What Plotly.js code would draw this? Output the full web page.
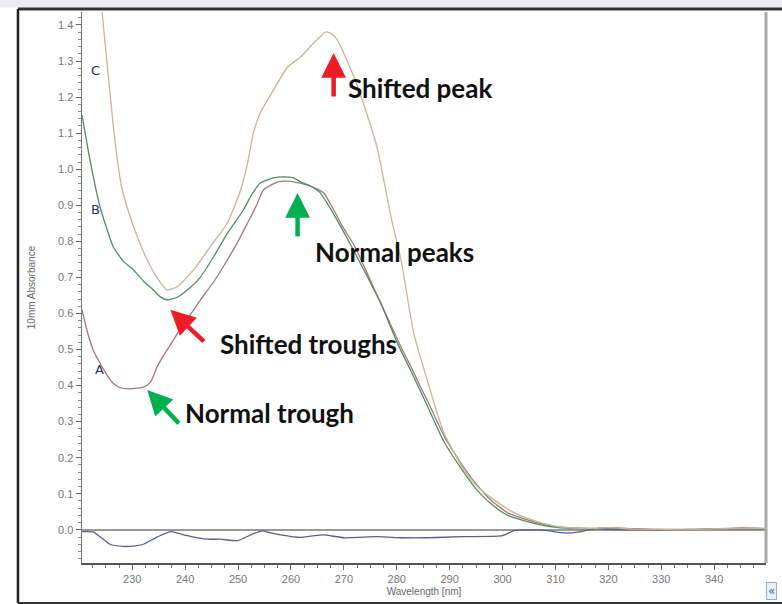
<!DOCTYPE html>
<html>
<head>
<meta charset="utf-8">
<script src="https://cdn.plot.ly/plotly-3.0.1.min.js"></script>
<style>html,body{margin:0;padding:0;background:#fff;}#chart{width:782px;height:604px;}</style>
</head>
<body>
<div id="chart"></div>
<script>
// Wavelength (nm) and absorbance readings for each spectrum
const wlC = [223.8, 224.3, 225.0, 225.8, 226.8, 228.0, 229.6, 231.2, 232.8, 234.7, 236.6, 238.5, 241.6, 245.3, 248.0, 250.5, 251.8, 252.9, 254.2, 256.7, 259.4, 261.8, 264.3, 266.6, 267.7, 268.8, 270.3, 271.9, 273.8, 276.4, 278.9, 280.8, 283.2, 285.9, 288.9, 292.7, 295.3, 298.4, 301.6, 305.4, 309.7, 313.5, 317, 320, 325, 330, 335, 340, 345, 350];
const absC = [1.52, 1.436, 1.33, 1.21, 1.07, 0.95, 0.868, 0.804, 0.749, 0.699, 0.665, 0.674, 0.721, 0.796, 0.851, 0.943, 1.017, 1.101, 1.156, 1.22, 1.284, 1.311, 1.35, 1.381, 1.375, 1.358, 1.311, 1.256, 1.178, 1.053, 0.868, 0.749, 0.546, 0.408, 0.269, 0.166, 0.119, 0.083, 0.052, 0.028, 0.011, 0.005, 0.004, 0.006, 0.002, 0.001, 0.0, 0.003, 0.004, 0.003];

const wlB = [220.5, 222.0, 223.9, 226.4, 228.3, 230.2, 232.1, 234.0, 235.3, 236.6, 238.5, 240.4, 242.9, 245.5, 248.0, 251.0, 252.6, 254.2, 256.7, 258.6, 260.5, 261.8, 263.5, 265.5, 267.5, 271.3, 273.8, 277.0, 280.2, 282.7, 285.9, 288.9, 292.1, 295.3, 298.0, 301.0, 305.9, 310.5, 313.5, 317, 320, 325, 330, 335, 340, 345, 350];
const absB = [1.15, 1.026, 0.896, 0.785, 0.745, 0.721, 0.69, 0.665, 0.646, 0.638, 0.645, 0.665, 0.701, 0.76, 0.823, 0.887, 0.93, 0.962, 0.976, 0.979, 0.976, 0.965, 0.955, 0.935, 0.89, 0.79, 0.72, 0.628, 0.515, 0.44, 0.34, 0.245, 0.172, 0.108, 0.07, 0.04, 0.018, 0.006, 0.004, 0.003, 0.005, 0.002, 0.0, 0.001, 0.002, 0.004, 0.003];

const wlA = [220.5, 221.5, 222.6, 224.0, 225.2, 226.5, 227.7, 229.6, 232.1, 233.4, 234.7, 236.2, 237.8, 239.5, 241.6, 242.9, 245.5, 248.0, 250.0, 251.8, 253.5, 254.8, 257.5, 259.4, 260.5, 263.1, 265.0, 266.2, 268.1, 269.8, 271.9, 274.0, 276.4, 278.5, 280.8, 282.7, 284.5, 285.9, 288.9, 292.1, 295.3, 298.0, 301.0, 305.9, 310.5, 313.5, 317, 320, 325, 330, 335, 340, 345, 350];
const absA = [0.61, 0.55, 0.499, 0.46, 0.43, 0.405, 0.394, 0.391, 0.396, 0.408, 0.452, 0.49, 0.527, 0.567, 0.61, 0.638, 0.69, 0.749, 0.8, 0.851, 0.9, 0.943, 0.965, 0.967, 0.965, 0.956, 0.945, 0.934, 0.887, 0.84, 0.79, 0.725, 0.646, 0.58, 0.507, 0.452, 0.396, 0.355, 0.262, 0.186, 0.122, 0.08, 0.047, 0.022, 0.008, 0.005, 0.004, 0.006, 0.003, 0.001, 0.001, 0.002, 0.005, 0.004];

const wlBase = [220.5, 222.6, 224.0, 225.8, 228.3, 230.2, 232.1, 234.7, 237.2, 238.8, 240.4, 244.2, 246.7, 249.9, 253.0, 254.6, 256.0, 258.0, 261.8, 264.0, 266.2, 270.0, 276.4, 281.0, 285.9, 292.1, 299.7, 301.0, 302.2, 306.0, 308.5, 311.1, 313.5, 315.5, 317.3, 320, 325, 330, 335, 340, 343, 345, 350];
const absBase = [-0.005, -0.006, -0.02, -0.04, -0.046, -0.045, -0.04, -0.02, -0.005, -0.01, -0.016, -0.026, -0.026, -0.03, -0.01, -0.003, -0.008, -0.014, -0.021, -0.017, -0.014, -0.022, -0.019, -0.022, -0.022, -0.019, -0.017, -0.01, -0.002, 0.0, -0.002, -0.008, -0.008, -0.003, 0.003, 0.001, 0.0, 0.0, 0.0, 0.003, 0.002, 0.003, 0.002];

// Text labels
const curveLabels = ["C", "B", "A"];
const curveLabelX = [223.0, 223.0, 223.75];
const curveLabelY = [1.275, 0.887, 0.444];
const noteTexts = ["Shifted peak", "Normal peaks", "Shifted troughs", "Normal trough"];
const noteX = [270.34, 264.09, 246.29, 239.66];
const noteY = [1.225, 0.771, 0.516, 0.324];
const arrowTipX = [268.07, 261.25, 237.2, 232.84];
const arrowTipY = [1.322, 0.934, 0.61, 0.388];
const arrowAx = [0, 0, 35, 33];
const arrowAy = [45, 45, 33, 35];
const arrowColors = ["#ee1c24", "#00b050", "#ee1c24", "#00b050"];

const line = (c) => ({color: c, width: 1.3, shape: "spline", smoothing: 0.5});
const traces = [
  {x: wlBase, y: absBase, mode: "lines", line: line("#5c5c96"), name: "baseline"},
  {x: wlA, y: absA, mode: "lines", line: line("#a8747e"), name: "A"},
  {x: wlB, y: absB, mode: "lines", line: line("#4f8f60"), name: "B"},
  {x: wlC, y: absC, mode: "lines", line: line("#c8b594"), name: "C"}
];

const annotations = [];
curveLabels.forEach((t, i) => annotations.push({
  x: curveLabelX[i], y: curveLabelY[i], xref: "x", yref: "y", text: t, showarrow: false,
  font: {family: "DejaVu Sans", size: 13, color: "#1f2f66"}
}));
noteTexts.forEach((t, i) => annotations.push({
  x: noteX[i], y: noteY[i], xref: "x", yref: "y", text: "<b>" + t + "</b>", showarrow: false,
  xanchor: "left", yanchor: "middle", font: {family: "Lato", size: 26, color: "#111"}
}));
arrowTipX.forEach((x, i) => annotations.push({
  x: x, y: arrowTipY[i], xref: "x", yref: "y", text: "", showarrow: true,
  ax: arrowAx[i], ay: arrowAy[i], arrowhead: 2, arrowsize: 1.1, arrowwidth: 4.5,
  arrowcolor: arrowColors[i]
}));
annotations.push({
  xref: "paper", yref: "paper", x: 1.0074, y: -0.0508, xanchor: "center", yanchor: "middle",
  text: "«", showarrow: false, font: {family: "DejaVu Sans", size: 12, color: "#3a6fa8"},
  bordercolor: "#8fb0d0", borderwidth: 1, borderpad: 1, bgcolor: "#e8f0f8"
});

const tickFont = {family: "Liberation Sans Narrow, Liberation Sans, Arial", size: 11, color: "#777"};
const layout = {
  width: 782, height: 604,
  margin: {l: 82, r: 16, t: 12, b: 41},
  paper_bgcolor: "#fff", plot_bgcolor: "#fff",
  showlegend: false, hovermode: false,
  xaxis: {
    range: [220.5, 349.8], tickmode: "linear", tick0: 230, dtick: 10,
    showgrid: false, zeroline: false, showline: true, linecolor: "#555", linewidth: 1.5,
    ticks: "outside", ticklen: 5, tickcolor: "#666", tickfont: tickFont,
    minor: {dtick: 2.5, ticks: "outside", ticklen: 3, tickcolor: "#777", showgrid: false},
    title: {text: "Wavelength [nm]", font: {family: "Liberation Sans Narrow, Liberation Sans, Arial", size: 10, color: "#666"}, standoff: 4}
  },
  yaxis: {
    range: [-0.092, 1.436], tickmode: "linear", tick0: 0, dtick: 0.1, tickformat: ".1f",
    showgrid: false, zeroline: true, zerolinecolor: "#999", zerolinewidth: 1.5,
    showline: true, linecolor: "#777", linewidth: 1.5,
    ticks: "outside", ticklen: 5, tickcolor: "#666", tickfont: tickFont,
    minor: {dtick: 0.02, ticks: "outside", ticklen: 3, tickcolor: "#888", showgrid: false},
    title: {text: "10mm Absorbance", font: {family: "Liberation Sans Narrow, Liberation Sans, Arial", size: 10, color: "#666"}, standoff: 20}
  },
  annotations: annotations,
  shapes: [
    {type: "rect", xref: "paper", yref: "paper", x0: -0.13, x1: 1.03, y0: 1.008, y1: 1.03, fillcolor: "#ececf2", line: {width: 0}, layer: "below"},
    {type: "line", xref: "paper", yref: "paper", x0: -0.0936, x1: 1.03, y0: 1.0054, y1: 1.0054, line: {color: "#333", width: 3}},
    {type: "line", xref: "paper", yref: "paper", x0: -0.0936, x1: -0.0936, y0: 1.0054, y1: -0.0726, line: {color: "#222", width: 2.5}},
    {type: "line", xref: "paper", yref: "paper", x0: -0.0936, x1: 1.03, y0: -0.0726, y1: -0.0726, line: {color: "#333", width: 2}},
    {type: "line", xref: "paper", yref: "paper", x0: 1, x1: 1, y0: 0, y1: 1, line: {color: "#aaa", width: 3}}
  ]
};
Plotly.newPlot("chart", traces, layout, {displayModeBar: false, staticPlot: true});
</script>
</body>
</html>
